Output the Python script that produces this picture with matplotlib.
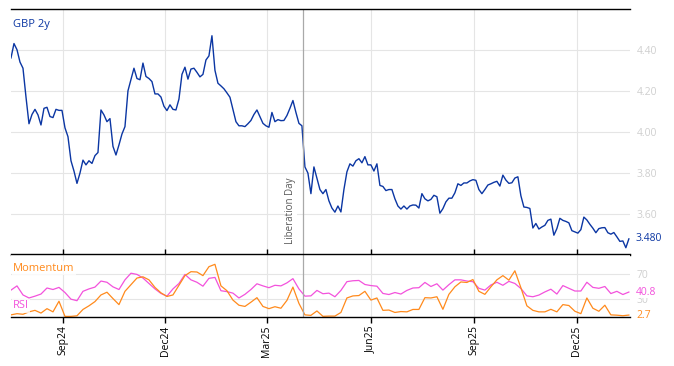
import matplotlib
matplotlib.use("Agg")  # no display
import matplotlib.pyplot as plt
import matplotlib.dates as mdates
import pandas as pd

plt.rcParams["font.family"] = ["Open Sans", "DejaVu Sans"]

# ---- data ----
START = "2024-07-17"
END = "2026-01-16"
LIB_DAY = "2025-04-02"

GBP_2Y = [
    4.36, 4.43, 4.40, 4.34, 4.31, 4.17, 4.04, 4.085, 4.11, 4.083,
    4.034, 4.115, 4.12, 4.075, 4.07, 4.11, 4.105, 4.105, 4.02, 3.977,
    3.86, 3.81, 3.75, 3.80, 3.863, 3.84, 3.86, 3.847, 3.885, 3.90,
    4.107, 4.083, 4.05, 4.065, 3.93, 3.888, 3.937, 3.99, 4.026, 4.20,
    4.254, 4.31, 4.26, 4.254, 4.335, 4.27, 4.26, 4.245, 4.185, 4.185,
    4.17, 4.125, 4.104, 4.132, 4.11, 4.107, 4.16, 4.28, 4.315, 4.257,
    4.306, 4.31, 4.29, 4.268, 4.28, 4.35, 4.37, 4.468, 4.30, 4.237,
    4.224, 4.21, 4.19, 4.169, 4.11, 4.05, 4.03, 4.03, 4.026, 4.04,
    4.056, 4.085, 4.107, 4.075, 4.042, 4.03, 4.023, 4.095, 4.05, 4.06,
    4.055, 4.056, 4.08, 4.115, 4.153, 4.095, 4.042, 4.03, 3.83, 3.80,
    3.70, 3.83, 3.774, 3.72, 3.70, 3.72, 3.665, 3.63, 3.61, 3.64,
    3.611, 3.72, 3.806, 3.845, 3.834, 3.86, 3.87, 3.85, 3.88, 3.84,
    3.84, 3.81, 3.845, 3.74, 3.735, 3.715, 3.72, 3.72, 3.675, 3.64,
    3.625, 3.64, 3.625, 3.64, 3.645, 3.644, 3.63, 3.70, 3.675, 3.665,
    3.672, 3.692, 3.685, 3.605, 3.627, 3.66, 3.678, 3.678, 3.704, 3.748,
    3.74, 3.752, 3.752, 3.762, 3.768, 3.765, 3.72, 3.70, 3.72, 3.742,
    3.748, 3.755, 3.76, 3.737, 3.79, 3.766, 3.75, 3.753, 3.776, 3.782,
    3.69, 3.635, 3.633, 3.628, 3.533, 3.555, 3.528, 3.538, 3.546, 3.57,
    3.576, 3.498, 3.53, 3.58, 3.57, 3.565, 3.558, 3.52, 3.514, 3.508,
    3.525, 3.586, 3.572, 3.551, 3.532, 3.51, 3.53, 3.534, 3.535, 3.51,
    3.503, 3.511, 3.49, 3.468, 3.47, 3.437, 3.48,
]

RSI = [
    44, 51, 36, 31, 34, 37.5, 47.5, 45, 48.5, 40,
    29, 26.5, 42, 46, 49, 59, 57, 49.4, 45, 61,
    72, 70, 64, 55, 46, 38.5, 34, 46, 55, 70,
    61, 57, 50.5, 63.5, 65, 43, 41.5, 39, 31, 37,
    45, 54.5, 51, 48, 52, 51, 56, 63, 46, 34,
    34.5, 43.5, 38, 39, 33, 43.5, 58, 59.5, 60, 53.3,
    51.5, 50.5, 38.5, 36.7, 40, 37.5, 43.5, 47.5, 48, 56.7,
    50, 54.5, 44, 53, 61, 61, 59, 58, 47, 44,
    52.5, 57, 52, 58.5, 55, 46.7, 34.5, 33, 35.8, 41,
    45.5, 37.5, 51.5, 47, 42.5, 42.5, 57, 48.5, 47, 50,
    38.3, 42, 36.7, 40.8,
]

MOMENTUM = [
    3, 5, 4, 8, 10.5, 6, 13.3, 8, 25.6, 0.5,
    0.5, 1.5, 12, 18, 25, 36, 40.5, 30, 20, 42,
    53, 64, 66, 61, 48.5, 39.5, 33.5, 36, 52, 68,
    74.5, 74, 68, 82.8, 86.7, 51, 43, 27.5, 19, 17,
    24, 31.5, 17, 13.3, 16.5, 14, 27, 49, 22, 3,
    2.2, 9.5, 0.6, 1, 1, 7, 31, 34.4, 35, 42,
    27.5, 31, 10.5, 11, 7, 8.5, 8, 12, 12, 31.5,
    31, 33, 12.2, 37, 49.5, 57.5, 56.7, 61.5, 42, 37,
    49.4, 61, 68, 60.5, 76, 48, 18, 10.5, 8, 8,
    12.2, 8, 20, 18.5, 9, 5, 31, 14, 9, 19,
    3, 2.5, 1.6, 2.7,
]

TICK_DATES = ["2024-09-01", "2024-12-01", "2025-03-01",
              "2025-06-01", "2025-09-01", "2025-12-01"]
TICK_LABELS = ["Sep24", "Dec24", "Mar25", "Jun25", "Sep25", "Dec25"]
MAIN_YTICKS = [3.60, 3.80, 4.00, 4.20, 4.40]
OSC_LEVELS = [30, 70]

# ---- colours ----
BLUE = "#0b36a3"
PINK = "#f352dc"
ORANGE = "#ff8a1c"
LABEL_GREY = "#cfcfcf"
GRID = "#e5e5e5"
VLINE = "#a9a9a9"

dates_main = pd.date_range(START, END, periods=len(GBP_2Y))
dates_osc = pd.date_range(START, END, periods=len(RSI))
ticks = pd.to_datetime(TICK_DATES)
lib = pd.Timestamp(LIB_DAY)


def _style(ax):
    for side in ["left", "right"]:
        ax.spines[side].set_visible(False)
    for side in ["top", "bottom"]:
        ax.spines[side].set_color("black")
        ax.spines[side].set_linewidth(1.0)
    ax.yaxis.tick_right()
    ax.tick_params(axis="y", length=0, pad=5, labelsize=7.5, labelcolor=LABEL_GREY)
    ax.grid(True, color=GRID, linewidth=0.8)
    ax.set_axisbelow(True)


fig = plt.figure(figsize=(6.74, 3.66), dpi=100)
ax = fig.add_axes([0.0163, 0.3046, 0.9184, 0.6708])
ax2 = fig.add_axes([0.0163, 0.1339, 0.9184, 0.1708], sharex=ax)

# ---- main panel ----
ax.plot(dates_main, GBP_2Y, color=BLUE, linewidth=1.0)
_style(ax)
ax.set_ylim(3.404, 4.598)
ax.set_yticks(MAIN_YTICKS)
ax.set_yticklabels([f"{v:.2f}" for v in MAIN_YTICKS])
ax.set_xlim(pd.Timestamp(START), pd.Timestamp(END) + pd.Timedelta(days=1))
ax.set_xticks(ticks)
ax.tick_params(axis="x", direction="in", length=4, width=1, labelbottom=False)

ax.axvline(lib, color=VLINE, linewidth=0.9)
ax.annotate("Liberation Day", xy=(lib, 3.455), xytext=(-7, 0),
            textcoords="offset pixels", rotation=90, ha="right", va="bottom",
            fontsize=7, color="#5a5a5a",
            bbox=dict(facecolor="white", edgecolor="none", pad=0.5))

ax.text(0.003, 0.935, "GBP 2y", transform=ax.transAxes, color=BLUE,
        fontsize=8, va="center", ha="left")
ax.annotate(f"{GBP_2Y[-1]:.3f}", xy=(1, GBP_2Y[-1]),
            xycoords=("axes fraction", "data"), xytext=(6, 0),
            textcoords="offset pixels", va="center", ha="left",
            fontsize=7.5, color=BLUE)

# ---- oscillator panel ----
ax2.plot(dates_osc, RSI, color=PINK, linewidth=0.9)
ax2.plot(dates_osc, MOMENTUM, color=ORANGE, linewidth=0.9)
_style(ax2)
ax2.set_ylim(-0.5, 103)
ax2.set_yticks(OSC_LEVELS)
ax2.set_yticklabels([str(v) for v in OSC_LEVELS])
ax2.axvline(lib, color=VLINE, linewidth=0.9)
ax2.tick_params(axis="x", direction="out", length=4, width=1,
                labelsize=7.5, labelrotation=90, pad=2)
ax2.set_xticks(ticks)
ax2.set_xticklabels(TICK_LABELS)

box = dict(facecolor="white", edgecolor="none", alpha=0.8, pad=1)
ax2.text(0.003, 0.78, "Momentum", transform=ax2.transAxes, color=ORANGE,
         fontsize=8, va="center", ha="left", bbox=box)
ax2.text(0.003, 0.18, "RSI", transform=ax2.transAxes, color=PINK,
         fontsize=8, va="center", ha="left", bbox=box)

for series, colour in [(RSI, PINK), (MOMENTUM, ORANGE)]:
    ax2.annotate(f"{series[-1]:.1f}", xy=(1, series[-1]),
                 xycoords=("axes fraction", "data"), xytext=(6, 0),
                 textcoords="offset pixels", va="center", ha="left",
                 fontsize=7.5, color=colour,
                 bbox=dict(facecolor="white", edgecolor="none", pad=0.3))

fig.savefig("out.png", dpi=100)
plt.close(fig)
